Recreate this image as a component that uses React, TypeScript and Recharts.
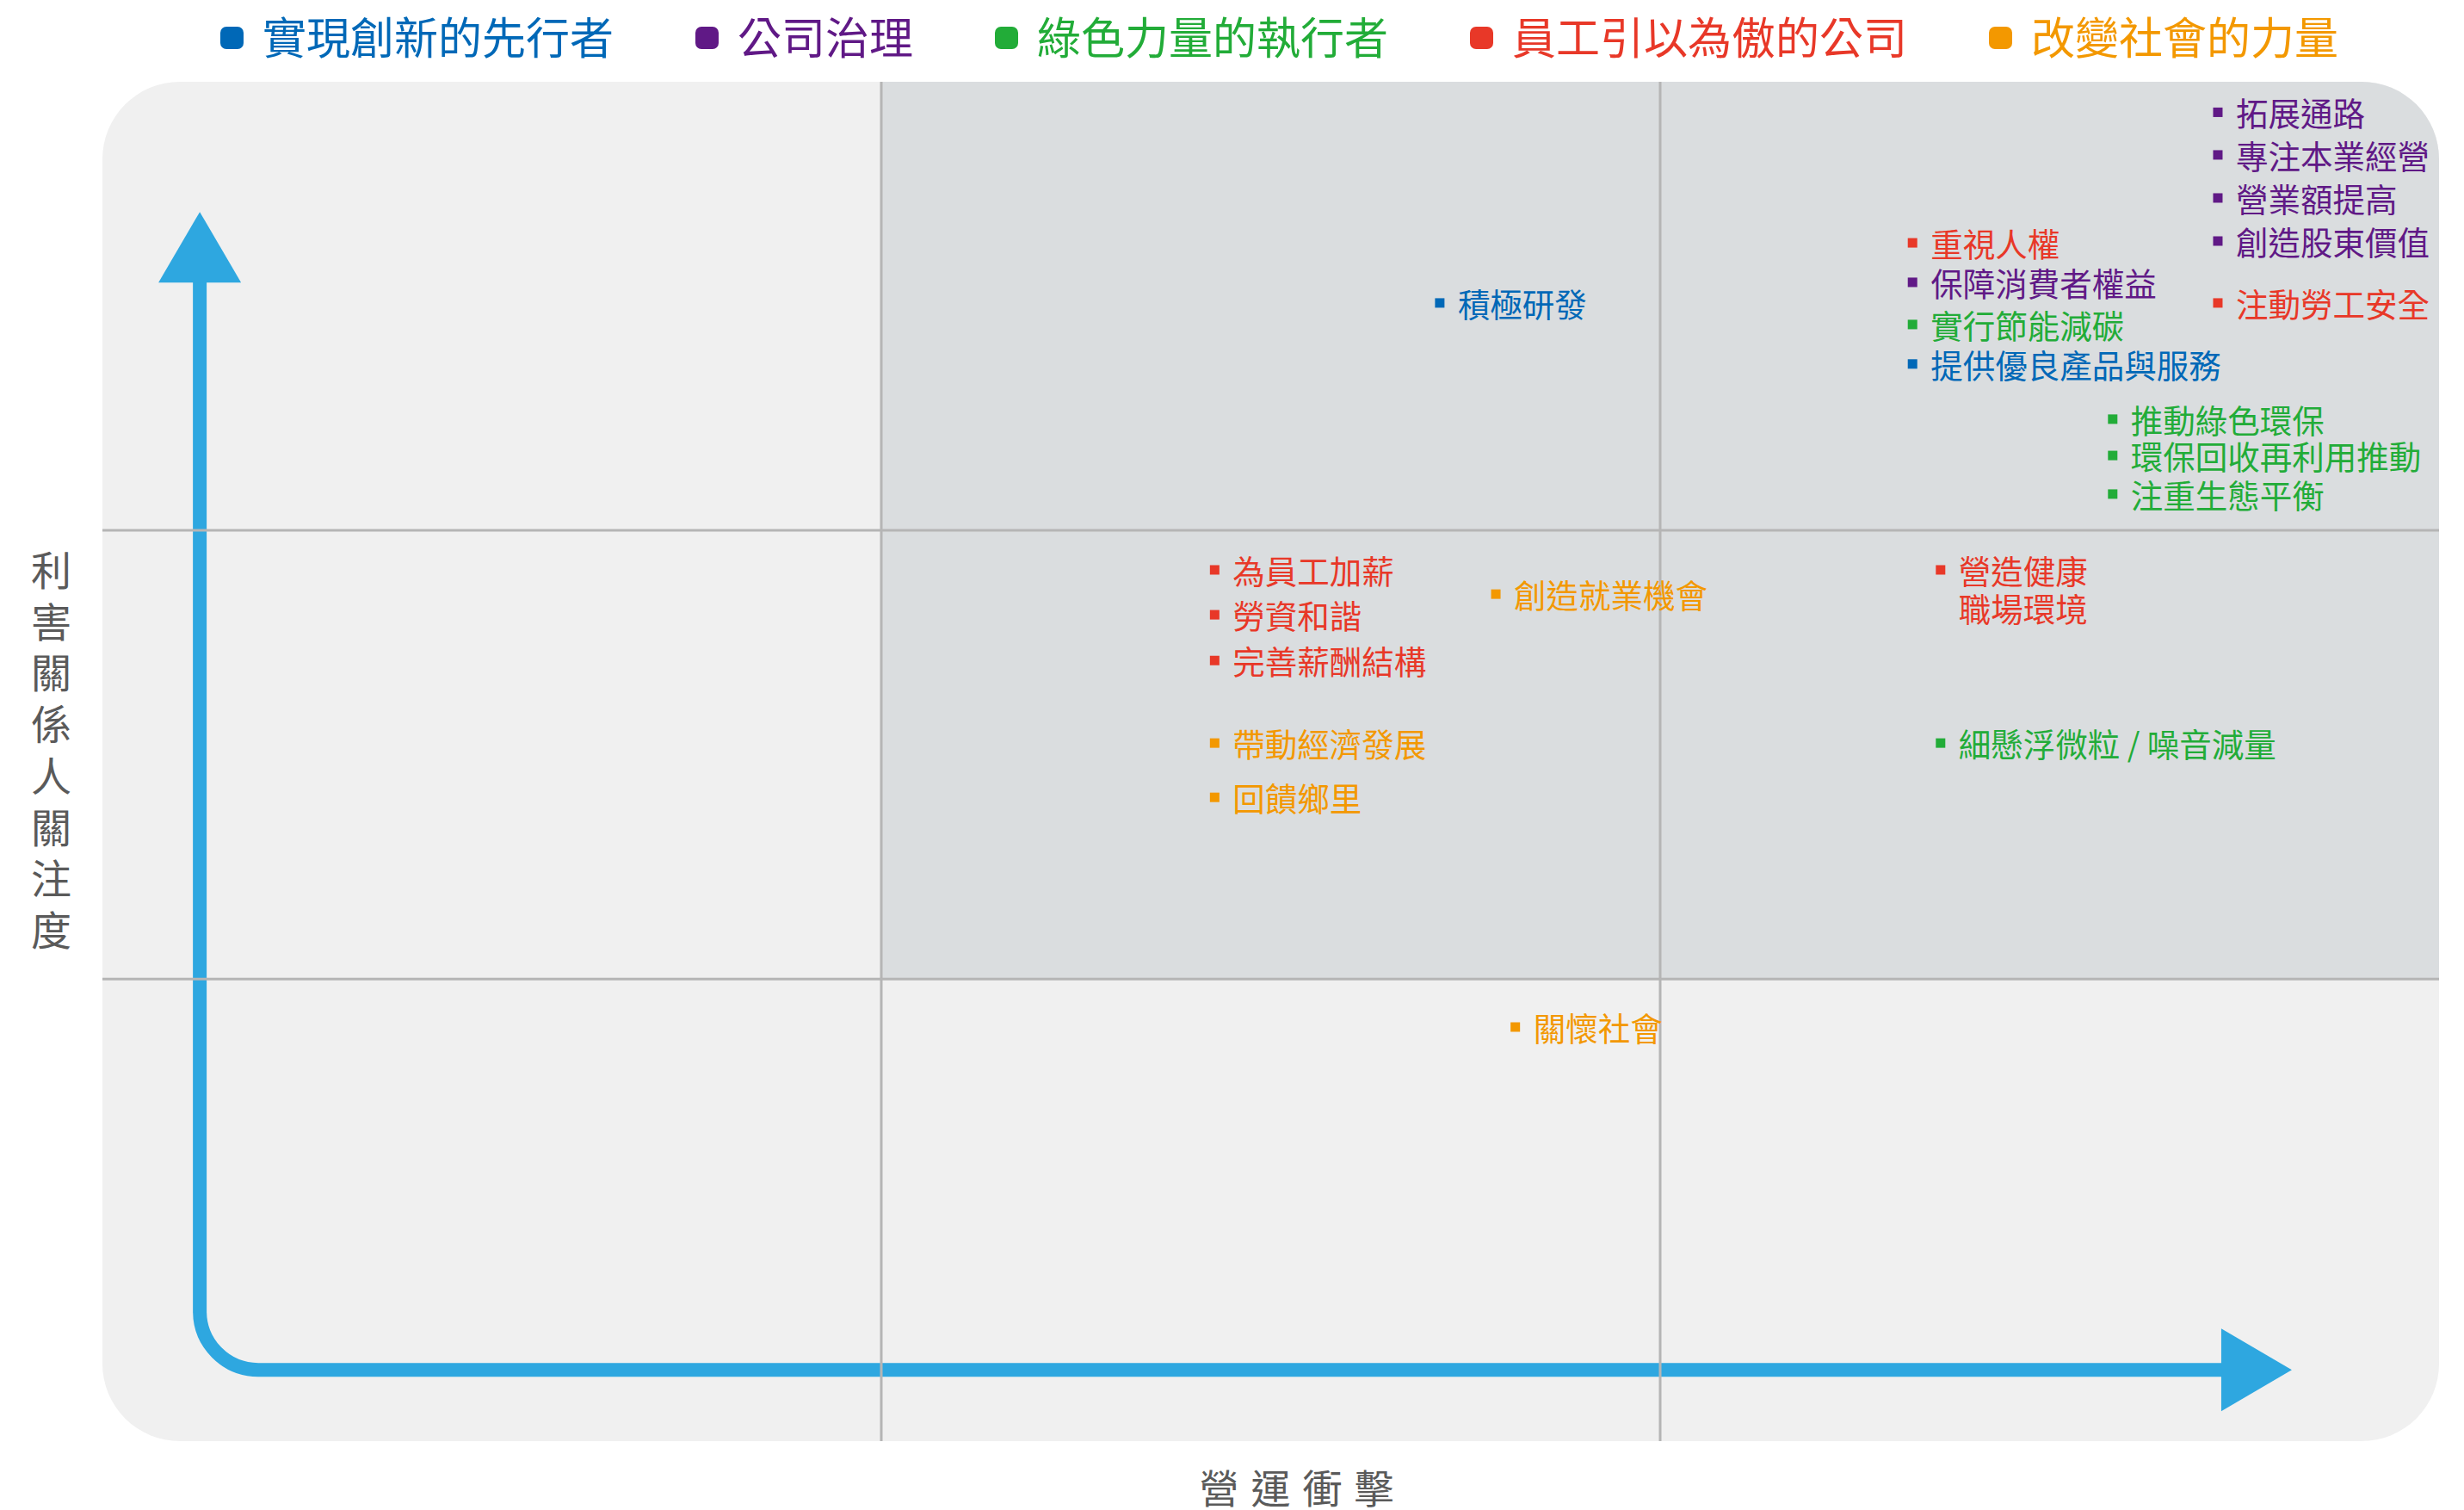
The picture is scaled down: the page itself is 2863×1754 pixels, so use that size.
import React from 'react';
import {
  ScatterChart,
  Scatter,
  XAxis,
  YAxis,
  ReferenceArea,
  ReferenceLine,
  Legend,
} from 'recharts';

// ---------- data ----------
const CATEGORIES = ['實現創新的先行者', '公司治理', '綠色力量的執行者', '員工引以為傲的公司', '改變社會的力量'];
const COLORS = ['#0068b7', '#601986', '#22ac38', '#e83828', '#f39800'];

const innovation = [
  { x: 1.717, y: 2.507, label: '積極研發' },
  { x: 2.324, y: 2.371, label: '提供優良產品與服務' },
];
const governance = [
  { x: 2.716, y: 2.932, label: '拓展通路' },
  { x: 2.716, y: 2.837, label: '專注本業經營' },
  { x: 2.716, y: 2.741, label: '營業額提高' },
  { x: 2.716, y: 2.645, label: '創造股東價值' },
  { x: 2.324, y: 2.553, label: '保障消費者權益' },
];
const green = [
  { x: 2.324, y: 2.459, label: '實行節能減碳' },
  { x: 2.581, y: 2.248, label: '推動綠色環保' },
  { x: 2.581, y: 2.167, label: '環保回收再利用推動' },
  { x: 2.581, y: 2.081, label: '注重生態平衡' },
  { x: 2.36, y: 1.526, label: '細懸浮微粒 / 噪音減量' },
];
const employees = [
  { x: 2.324, y: 2.641, label: '重視人權' },
  { x: 2.716, y: 2.507, label: '注動勞工安全' },
  { x: 1.428, y: 1.912, label: '為員工加薪' },
  { x: 1.428, y: 1.812, label: '勞資和諧' },
  { x: 1.428, y: 1.71, label: '完善薪酬結構' },
  { x: 2.36, y: 1.912, label: '營造健康\n職場環境' },
];
const society = [
  { x: 1.789, y: 1.858, label: '創造就業機會' },
  { x: 1.428, y: 1.526, label: '帶動經濟發展' },
  { x: 1.428, y: 1.405, label: '回饋鄉里' },
  { x: 1.814, y: 0.893, label: '關懷社會' },
];
const SERIES = [innovation, governance, green, employees, society];

const X_DOMAIN = [0, 3];
const Y_DOMAIN = [-0.03, 3];
const X_SPLITS = [1, 2];
const Y_SPLITS = [1, 2];
// the blue L-shaped axis arrow (data space)
const ARROW_X = [0.125, 2.811];
const ARROW_Y = [0.129, 2.71];

const X_TITLE = '營運衝擊';
const Y_TITLE = '利害關係人關注度';

// ---------- styles ----------
const W = 2863;
const H = 1754;
const FONT = '"Noto Sans CJK TC", "Noto Sans CJK SC", sans-serif';
const PANEL = '#f0f0f0';
const PANEL_DARK = '#dadddf';
const GRID = '#b5b5b5';
const ARROW = '#2ea7e0';
const AXIS_TEXT = '#5a5a5a';
const R = 90;

const PanelShape = (p: any) => {
  const { x, y, width, height } = p;
  return <rect x={x} y={y} width={width} height={height} rx={R} ry={R} fill={PANEL} />;
};

const DarkShape = (p: any) => {
  const { x, y, width, height } = p;
  const d = `M${x},${y} L${x + width - R},${y} A${R},${R} 0 0 1 ${x + width},${y + R} L${x + width},${y + height} L${x},${y + height} Z`;
  return <path d={d} fill={PANEL_DARK} />;
};

const ArrowShape = (p: any) => {
  const { x, y, width, height } = p;
  const left = x;
  const top = y;
  const right = x + width;
  const bottom = y + height;
  const r = 68;
  const hl = 82;
  const hw = 48;
  const d = `M${left},${top + hl - 2} L${left},${bottom - r} A${r},${r} 0 0 0 ${left + r},${bottom} L${right - hl + 2},${bottom}`;
  return (
    <g>
      <path d={d} fill="none" stroke={ARROW} strokeWidth={16} />
      <polygon points={`${left},${top} ${left - hw},${top + hl} ${left + hw},${top + hl}`} fill={ARROW} />
      <polygon points={`${right},${bottom} ${right - hl},${bottom - hw} ${right - hl},${bottom + hw}`} fill={ARROW} />
    </g>
  );
};

const makeShape = (color: string) => (p: any) => {
  const { cx, cy, payload } = p;
  const lines: string[] = String(payload.label).split('\n');
  return (
    <g>
      <rect x={cx - 5.5} y={cy - 5.5} width={11} height={11} fill={color} />
      <text x={cx + 21} y={cy - 1} fill={color} fontSize={37.5} fontFamily={FONT} dominantBaseline="central">
        {lines.map((l, i) => (
          <tspan key={i} x={cx + 21} dy={i === 0 ? 0 : 44} dominantBaseline="central">
            {l}
          </tspan>
        ))}
      </text>
    </g>
  );
};

const YTitle = (p: any) => {
  const vb = p.viewBox || { x: 0, y: 95, width: 119, height: 1579 };
  const cx = vb.x + vb.width / 2;
  const cy = vb.y + vb.height / 2 - 16;
  const chars = Array.from(Y_TITLE);
  return (
    <g>
      {chars.map((c, i) => (
        <text
          key={i}
          x={cx}
          y={cy + (i - (chars.length - 1) / 2) * 59.7}
          textAnchor="middle"
          dominantBaseline="central"
          fontSize={47}
          fontFamily={FONT}
          fill={AXIS_TEXT}
        >
          {c}
        </text>
      ))}
    </g>
  );
};

const XTitle = (p: any) => {
  const vb = p.viewBox || { x: 119, y: 1674, width: 2715, height: 80 };
  const chars = Array.from(X_TITLE);
  const cx = vb.x + vb.width / 2 + 30;
  return (
    <g>
      {chars.map((c, i) => (
        <text
          key={i}
          x={cx + (i - (chars.length - 1) / 2) * 60}
          y={vb.y + 52}
          textAnchor="middle"
          dominantBaseline="central"
          fontSize={46}
          fontFamily={FONT}
          fill={AXIS_TEXT}
        >
          {c}
        </text>
      ))}
    </g>
  );
};

const LegendContent = () => (
  <div
    style={{
      height: 95,
      boxSizing: 'border-box',
      paddingLeft: 256,
      paddingBottom: 8,
      display: 'flex',
      alignItems: 'center',
      fontFamily: FONT,
    }}
  >
    {CATEGORIES.map((c, i) => (
      <div key={c} style={{ display: 'flex', alignItems: 'center', marginRight: 95 }}>
        <div style={{ width: 27, height: 26, borderRadius: 7, background: COLORS[i], marginRight: 22 }} />
        <span style={{ fontSize: 51, lineHeight: 1, color: COLORS[i], position: 'relative', top: -2 }}>{c}</span>
      </div>
    ))}
  </div>
);

export default function App() {
  return (
    <div style={{ position: 'absolute', left: 0, top: 0, width: W, height: H, background: '#fff' }}>
      <ScatterChart width={W} height={H} margin={{ top: 0, right: 29, bottom: 0, left: 0 }}>
        <Legend
          verticalAlign="top"
          align="left"
          content={<LegendContent />}
          wrapperStyle={{ top: 0, left: 0, width: W, height: 95, margin: 0, padding: 0 }}
        />
        <XAxis
          type="number"
          dataKey="x"
          domain={X_DOMAIN}
          height={80}
          axisLine={false}
          tickLine={false}
          tick={false}
          allowDataOverflow
          label={{ content: <XTitle /> }}
        />
        <YAxis
          type="number"
          dataKey="y"
          domain={Y_DOMAIN}
          width={119}
          axisLine={false}
          tickLine={false}
          tick={false}
          allowDataOverflow
          label={{ content: <YTitle /> }}
        />
        <ReferenceArea x1={X_DOMAIN[0]} x2={X_DOMAIN[1]} y1={Y_DOMAIN[0]} y2={Y_DOMAIN[1]} shape={PanelShape} />
        <ReferenceArea x1={X_SPLITS[0]} x2={X_DOMAIN[1]} y1={Y_SPLITS[0]} y2={Y_DOMAIN[1]} shape={DarkShape} />
        {X_SPLITS.map((v) => (
          <ReferenceLine key={'x' + v} x={v} stroke={GRID} strokeWidth={3} />
        ))}
        {Y_SPLITS.map((v) => (
          <ReferenceLine key={'y' + v} y={v} stroke={GRID} strokeWidth={3} />
        ))}
        <ReferenceArea x1={ARROW_X[0]} x2={ARROW_X[1]} y1={ARROW_Y[0]} y2={ARROW_Y[1]} shape={ArrowShape} />
        {SERIES.map((data, i) => (
          <Scatter
            key={CATEGORIES[i]}
            name={CATEGORIES[i]}
            data={data}
            fill={COLORS[i]}
            shape={makeShape(COLORS[i])}
            isAnimationActive={false}
          />
        ))}
      </ScatterChart>
    </div>
  );
}
